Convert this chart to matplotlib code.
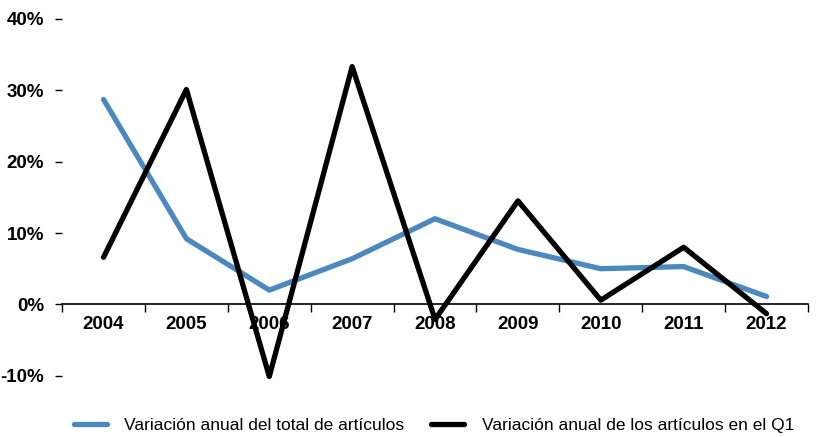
import numpy as np
import matplotlib.pyplot as plt

years = ["2004", "2005", "2006", "2007", "2008", "2009", "2010", "2011", "2012"]
total = [28.7, 9.2, 2.0, 6.4, 12.0, 7.7, 5.0, 5.3, 1.1]
q1 = [6.6, 30.1, -10.1, 33.3, -2.1, 14.5, 0.6, 8.0, -1.3]
yticks = [-10, 0, 10, 20, 30, 40]

plt.rcParams['font.family'] = ['Liberation Sans', 'DejaVu Sans']

fig = plt.figure(figsize=(8.17, 4.37), dpi=100)
ax = fig.add_axes([0.076, 0.14, 0.913, 0.817])

x = np.arange(len(years))
ax.plot(x, total, color='#4a88bd', lw=3.8, solid_capstyle='round', clip_on=False,
        label='Variación anual del total de artículos')
ax.plot(x, q1, color='black', lw=3.8, solid_capstyle='round', clip_on=False,
        label='Variación anual de los artículos en el Q1')

ax.set_xlim(-0.5, len(years) - 0.5)
ax.set_ylim(-10, 40)
for s in ['top', 'right', 'left']:
    ax.spines[s].set_visible(False)
ax.spines['bottom'].set_position(('data', 0))
ax.spines['bottom'].set_linewidth(1.2)
ax.spines['bottom'].set_zorder(1)

ax.set_xticks(x)
ax.set_xticklabels(years, fontsize=13.5, fontweight='bold')
ax.tick_params(axis='x', length=0, pad=8)
ax.set_xticks(np.arange(len(years) + 1) - 0.5, minor=True)
ax.tick_params(axis='x', which='minor', length=6, width=1, direction='out')

ax.set_yticks(yticks)
ax.set_yticklabels([f"{v}%" for v in yticks], fontsize=13.5, fontweight='bold')
ax.tick_params(axis='y', length=5, width=1, pad=8)

fig.legend(loc='center', bbox_to_anchor=(0.531, 0.027), ncol=2, frameon=False,
           fontsize=12.5, handlelength=1.9, columnspacing=1.55, handletextpad=1.0)

fig.savefig('out.png', dpi=100)
